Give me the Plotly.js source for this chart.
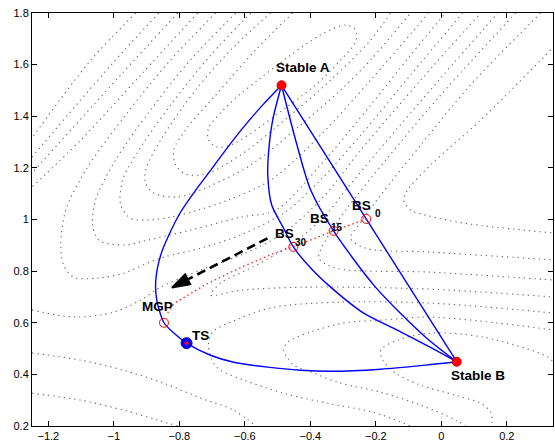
<!DOCTYPE html>
<html><head><meta charset="utf-8">
<script src="https://cdn.plot.ly/plotly-3.0.1.min.js"></script>
<style>html,body{margin:0;padding:0;background:#fff}#chart{width:555px;height:441px}</style>
</head><body><div id="chart"></div>
<script>
// ---- axis ticks ----
const xTicks = [-1.2,-1,-0.8,-0.6,-0.4,-0.2,0,0.2];
const yTicks = [0.2,0.4,0.6,0.8,1,1.2,1.4,1.6,1.8];

// ---- key points ----
const stableX = [-0.488, 0.047];
const stableY = [1.520, 0.449];
const tsX = [-0.778];
const tsY = [0.521];
const openX = [-0.847, -0.229, -0.329, -0.452]; // MGP, BS0, BS15, BS30
const openY = [0.600, 1.002, 0.956, 0.894];

// ---- band paths (blue) ----
const path0X = [-0.488, -0.229, 0.047];
const path0Y = [1.520, 1.002, 0.449];
const path15X = [-0.488,-0.445,-0.399,-0.329,-0.201,-0.048,0.047];
const path15Y = [1.520,1.308,1.114,0.956,0.738,0.544,0.449];
const path30X = [-0.488,-0.515,-0.527,-0.530,-0.518,-0.482,-0.452,-0.399,-0.338,-0.237,-0.134,-0.033,0.047];
const path30Y = [1.520,1.385,1.269,1.172,1.056,0.967,0.894,0.812,0.738,0.637,0.571,0.505,0.449];
const mepX = [-0.488,-0.546,-0.604,-0.659,-0.704,-0.750,-0.796,-0.832,-0.857,-0.872,-0.869,-0.847,-0.817,-0.778,-0.705,-0.634,-0.530,-0.430,-0.338,-0.185,-0.048,0.047];
const mepY = [1.520,1.443,1.358,1.269,1.191,1.114,1.029,0.940,0.862,0.765,0.688,0.600,0.560,0.521,0.474,0.447,0.428,0.416,0.412,0.420,0.436,0.449];

// ---- red dotted line through BS points to MGP ----
const bandX = [-0.229,-0.329,-0.452,-0.511,-0.613,-0.714,-0.816,-0.836];
const bandY = [1.002,0.956,0.894,0.869,0.814,0.752,0.675,0.637];

// ---- dashed arrow ----
const arrowX = [-0.531, -0.788];
const arrowY = [0.927, 0.759];
const arrowHeadX = [-0.788, -0.823];
const arrowHeadY = [0.759, 0.736];

// ---- labels ----
const labelText = ['Stable A', 'Stable B', 'MGP', 'TS', 'BS', 'BS', 'BS'];
const labelX = [-0.512, 0.024, -0.919, -0.766, -0.278, -0.407, -0.515];
const labelY = [1.587, 0.397, 0.664, 0.549, 1.056, 1.004, 0.946];
const subText = ['0', '15', '30'];
const subX = [-0.2095, -0.342, -0.454];
const subY = [1.025, 0.969, 0.910];

// ---- contour lines (dotted) ----
const c01x = [-0.711,-0.711,-0.685,-0.637,-0.567,-0.476,-0.384,-0.307,-0.262,-0.262,-0.292,-0.369,-0.460,-0.552,-0.628,-0.689,-0.711];
const c01y = [1.354,1.308,1.281,1.292,1.347,1.432,1.521,1.618,1.688,1.734,1.753,1.715,1.637,1.548,1.471,1.393,1.354];
const c02x = [-0.454,-0.567,-0.689,-0.781,-0.817,-0.811,-0.781,-0.720,-0.613,-0.460,-0.338,-0.216,-0.155];
const c02y = [1.800,1.657,1.482,1.347,1.269,1.211,1.176,1.176,1.250,1.405,1.540,1.695,1.800];
const c03x = [-0.521,-0.628,-0.750,-0.857,-0.903,-0.903,-0.878,-0.805,-0.714,-0.582,-0.430,-0.307,-0.216,-0.094];
const c03y = [1.800,1.676,1.502,1.308,1.191,1.141,1.102,1.087,1.126,1.211,1.366,1.502,1.618,1.800];
const c04x = [-0.582,-0.704,-0.827,-0.933,-0.973,-0.979,-0.949,-0.897,-0.827,-0.744,-0.652,-0.521,-0.369,-0.216,-0.039];
const c04y = [1.800,1.637,1.443,1.250,1.153,1.056,1.005,0.998,1.009,1.036,1.075,1.153,1.327,1.540,1.800];
const c05x = [-0.628,-0.766,-0.888,-0.995,-1.056,-1.065,-1.046,-0.970,-0.897,-0.766,-0.613,-0.506,-0.369,-0.216,-0.094,0.013];
const c05y = [1.800,1.618,1.424,1.230,1.075,0.978,0.920,0.901,0.920,0.959,1.009,1.036,1.211,1.443,1.637,1.800];
const c06x = [-0.689,-0.827,-0.964,-1.086,-1.147,-1.162,-1.153,-1.123,-1.049,-0.970,-0.897,-0.848,-0.735,-0.613,-0.476,-0.369,-0.246,-0.094,0.065];
const c06y = [1.800,1.618,1.405,1.191,1.036,0.901,0.823,0.777,0.773,0.792,0.831,0.854,0.889,0.940,1.029,1.153,1.327,1.560,1.800];
const c07x = [-0.744,-0.918,-1.101,-1.250];
const c07y = [1.800,1.560,1.308,1.126];
const c08x = [-1.250,-1.123,-1.000,-0.918,-0.857,-0.735,-0.613,-0.491,-0.369,-0.246,-0.063,0.120];
const c08y = [0.650,0.622,0.641,0.688,0.738,0.804,0.862,0.940,1.075,1.269,1.540,1.800];
const c09x = [-0.805,-0.979,-1.250];
const c09y = [1.800,1.560,1.180];
const c10x = [-0.933,-1.070,-1.250];
const c10y = [1.800,1.618,1.316];
const c11x = [0.349,-0.033,-0.307,-0.512,-0.613,-0.698,-0.711,-0.695,-0.674,-0.603,-0.482,-0.347,-0.207,-0.094];
const c11y = [0.637,0.676,0.680,0.660,0.618,0.564,0.513,0.443,0.416,0.378,0.327,0.288,0.253,0.200];
const c12x = [0.349,-0.033,-0.185,-0.298,-0.399,-0.469,-0.482,-0.469,-0.451,-0.399,-0.307,-0.185,-0.063,0.044,0.074];
const c12y = [0.571,0.622,0.610,0.599,0.564,0.525,0.494,0.463,0.436,0.409,0.366,0.331,0.281,0.223,0.200];
const c13x = [0.349,0.325,0.129,-0.033,-0.133,-0.185,-0.179,-0.140,-0.063,0.044,0.120,0.151,0.154];
const c13y = [0.436,0.467,0.544,0.560,0.533,0.494,0.455,0.405,0.358,0.319,0.288,0.253,0.200];
const c14x = [0.334,0.120,-0.033,-0.103,-0.115,-0.094,-0.048,0.068,0.349];
const c14y = [1.657,1.385,1.211,1.114,1.075,1.036,1.017,0.986,0.947];
const c15x = [-1.250,-1.101,-0.970,-0.848,-0.735,-0.634,-0.567];
const c15y = [0.483,0.455,0.416,0.366,0.308,0.261,0.200];
const c16x = [-1.250,-1.101,-0.970,-0.866,-0.805];
const c16y = [0.327,0.300,0.261,0.223,0.200];
const c17x = [0.349,-0.033,-0.408,-0.613,-0.704,-0.674,-0.582,-0.460,-0.353,-0.292,-0.185,-0.002,0.172];
const c17y = [0.699,0.730,0.738,0.726,0.707,0.754,0.812,0.901,1.017,1.114,1.277,1.548,1.800];
const c18x = [0.303,0.089,-0.063,-0.185,-0.246,-0.277,-0.231,-0.033,0.349];
const c18y = [1.800,1.521,1.288,1.095,0.990,0.928,0.889,0.874,0.843];
const c19x = [0.227,-0.002,-0.170,-0.292,-0.353,-0.374,-0.323,-0.033,0.349];
const c19y = [1.800,1.482,1.230,1.036,0.920,0.850,0.812,0.796,0.765];
const c20x = [-0.863,-1.009,-1.250];
const c20y = [1.800,1.598,1.242];

const contourX = [c01x,c02x,c03x,c04x,c05x,c06x,c07x,c08x,c09x,c10x,c11x,c12x,c13x,c14x,c15x,c16x,c17x,c18x,c19x,c20x];
const contourY = [c01y,c02y,c03y,c04y,c05y,c06y,c07y,c08y,c09y,c10y,c11y,c12y,c13y,c14y,c15y,c16y,c17y,c18y,c19y,c20y];

const traces = [];
contourX.forEach((cx, i) => {
  traces.push({type:'scatter', mode:'lines', x:cx, y:contourY[i], hoverinfo:'skip',
    line:{color:'#6a6a6a', width:1.1, dash:'1.3px,4px', shape:'spline', smoothing:0.9}});
});
const blue = {color:'#0000ff', width:1.4};
traces.push({type:'scatter', mode:'lines', x:path0X, y:path0Y, line:blue});
traces.push({type:'scatter', mode:'lines', x:path15X, y:path15Y, line:Object.assign({shape:'spline', smoothing:0.8}, blue)});
traces.push({type:'scatter', mode:'lines', x:path30X, y:path30Y, line:Object.assign({shape:'spline', smoothing:0.8}, blue)});
traces.push({type:'scatter', mode:'lines', x:mepX, y:mepY, line:Object.assign({shape:'spline', smoothing:0.8}, blue)});
traces.push({type:'scatter', mode:'lines', x:bandX, y:bandY, line:{color:'#ff2020', width:1.3, dash:'1.5px,3px'}});
traces.push({type:'scatter', mode:'lines', x:arrowX, y:arrowY, line:{color:'#000', width:2.6, dash:'9px,5px'}});
traces.push({type:'scatter', mode:'markers', x:arrowHeadX, y:arrowHeadY, opacity:1,
  marker:{symbol:'arrow', angleref:'previous', size:[0, 19], color:'#000', opacity:1, line:{color:'#000', width:1.5}}});
traces.push({type:'scatter', mode:'markers', x:stableX, y:stableY,
  marker:{color:'#ff0000', size:9, line:{color:'#d00000', width:1}}});
traces.push({type:'scatter', mode:'markers', x:tsX, y:tsY,
  marker:{color:'#0000ff', size:11, line:{color:'#0000cc', width:1}}});
traces.push({type:'scatter', mode:'markers', x:tsX, y:tsY,
  marker:{color:'#ff0000', size:4, line:{width:0}}});
traces.push({type:'scatter', mode:'markers', x:openX, y:openY,
  marker:{symbol:'circle-open', color:'#ff0000', size:9, line:{color:'#ff0000', width:1}}});

const fam = 'Liberation Sans, Arial, Helvetica, sans-serif';
const annotations = [];
labelText.forEach((t, i) => annotations.push({xref:'x', yref:'y', x:labelX[i], y:labelY[i], text:'<b>' + t + '</b>',
  showarrow:false, xanchor:'left', yanchor:'middle', font:{family:fam, size:13.5, color:'#000'}}));
subText.forEach((t, i) => annotations.push({xref:'x', yref:'y', x:subX[i], y:subY[i], text:'<b>' + t + '</b>',
  showarrow:false, xanchor:'left', yanchor:'middle', font:{family:fam, size:10, color:'#000'}}));

const tickFont = {family:fam, size:11, color:'#000'};
const layout = {
  width:555, height:441,
  margin:{l:32, r:2, t:13, b:15, pad:0},
  paper_bgcolor:'#fff', plot_bgcolor:'#fff',
  showlegend:false,
  xaxis:{range:[-1.25, 0.341], tickvals:xTicks, ticks:'inside', ticklen:5, tickwidth:1, tickcolor:'#000',
    showline:true, linecolor:'#000', linewidth:1, mirror:'ticks', showgrid:false, zeroline:false, tickfont:tickFont},
  yaxis:{range:[0.2, 1.8], tickvals:yTicks, ticks:'inside', ticklen:5, tickwidth:1, tickcolor:'#000',
    showline:true, linecolor:'#000', linewidth:1, mirror:'ticks', showgrid:false, zeroline:false, tickfont:tickFont},
  annotations:annotations
};
Plotly.newPlot('chart', traces, layout, {staticPlot:true, displayModeBar:false});
</script></body></html>
